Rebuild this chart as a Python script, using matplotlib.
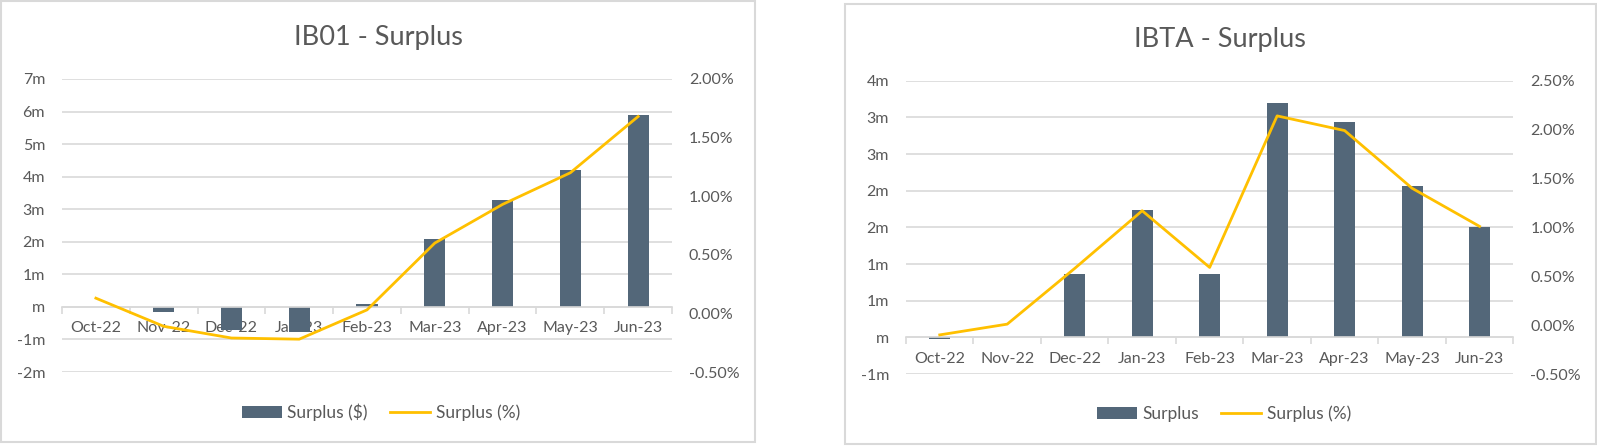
import numpy as np
import matplotlib
matplotlib.use("Agg")
import matplotlib.pyplot as plt
from matplotlib.patches import Rectangle
from matplotlib.ticker import FuncFormatter

months = ["Oct-22", "Nov-22", "Dec-22", "Jan-23", "Feb-23",
          "Mar-23", "Apr-23", "May-23", "Jun-23"]

# IB01 - surplus in $m and in %
ib01_surplus_m = [0.0, -0.17, -0.72, -0.78, 0.09, 2.09, 3.29, 4.21, 5.90]
ib01_surplus_pct = [0.13, -0.11, -0.21, -0.22, 0.03, 0.60, 0.93, 1.20, 1.68]

# IBTA - surplus in $m and in %
ibta_surplus_m = [-0.02, 0.0, 0.86, 1.73, 0.86, 3.19, 2.94, 2.07, 1.50]
ibta_surplus_pct = [-0.10, 0.01, 0.58, 1.17, 0.59, 2.14, 1.99, 1.40, 1.01]

BAR = "#536779"
LINE = "#FFC000"
GRID = "#d9d9d9"
TXT = "#595959"
FS = 11.5
LEG_FS = 12.5

plt.rcParams["font.family"] = ["Lato", "DejaVu Sans"]

W, H = 1597, 446
fig = plt.figure(figsize=(W / 100, H / 100), dpi=100)


def px_box(x0, y0, x1, y1):
    # pixel box (top-left origin) -> figure fraction rect
    return [x0 / W, 1 - y1 / H, (x1 - x0) / W, (y1 - y0) / H]


def m_fmt(v, pos):
    r = int(np.sign(v) * np.floor(abs(v) + 0.5))
    return "m" if r == 0 else f"{r}m"


def pct_fmt(v, pos):
    return f"{v:.2f}%"


def draw_panel(rect, bars, pct, ylim, yticks, plim, pticks, bar_label):
    ax = fig.add_axes(rect)
    x = np.arange(len(months))
    ax.set_axisbelow(True)
    ax.bar(x, bars, width=0.31, color=BAR, label=bar_label, zorder=2)
    ax.set_xlim(-0.5, len(months) - 0.5)
    ax.set_ylim(*ylim)
    ax.set_yticks(yticks)
    ax.yaxis.set_major_formatter(FuncFormatter(m_fmt))
    ax.grid(axis="y", color=GRID, lw=1.2)
    for s in ax.spines.values():
        s.set_visible(False)
    ax.spines["bottom"].set_visible(True)
    ax.spines["bottom"].set_position(("data", 0))
    ax.spines["bottom"].set_color(GRID)
    ax.spines["bottom"].set_linewidth(1.2)
    ax.set_xticks(x)
    ax.set_xticklabels(months)
    ax.set_xticks(np.arange(len(months) + 1) - 0.5, minor=True)
    ax.tick_params(axis="x", which="major", length=0, pad=10.3,
                   labelcolor=TXT, labelsize=FS)
    ax.tick_params(axis="x", which="minor", length=5, color=GRID, width=1.2)
    ax.tick_params(axis="y", length=0, pad=12.2, labelcolor=TXT, labelsize=FS)

    ax2 = ax.twinx()
    ax2.plot(x, pct, color=LINE, lw=2.0, label="Surplus (%)",
             solid_joinstyle="round")
    ax2.set_ylim(*plim)
    ax2.set_yticks(pticks)
    ax2.yaxis.set_major_formatter(FuncFormatter(pct_fmt))
    for s in ax2.spines.values():
        s.set_visible(False)
    ax2.tick_params(axis="y", length=0, pad=12.2, labelcolor=TXT, labelsize=FS)
    return ax, ax2


# chart frames
fig.add_artist(Rectangle((1 / W, 1 - 442 / H), 753.7 / W, 441 / H,
                         transform=fig.transFigure, fill=False,
                         edgecolor=GRID, lw=1.5))
fig.add_artist(Rectangle((845 / W, 1 - 444 / H), 750.7 / W, 440 / H,
                         transform=fig.transFigure, fill=False,
                         edgecolor=GRID, lw=1.5))

a1, b1 = draw_panel(px_box(62, 79, 672, 372), ib01_surplus_m, ib01_surplus_pct,
                    (-2, 7), np.arange(-2, 8, 1),
                    (-0.5, 2.0), np.arange(-0.5, 2.01, 0.5), "Surplus ($)")
a2, b2 = draw_panel(px_box(906, 80.7, 1513.3, 374), ibta_surplus_m, ibta_surplus_pct,
                    (-0.5, 3.5), np.arange(-0.5, 3.51, 0.5),
                    (-0.5, 2.5), np.arange(-0.5, 2.51, 0.5), "Surplus")

fig.text(378 / W, 1 - 38 / H, "IB01 - Surplus", ha="center", va="center",
         fontsize=19.5, color=TXT)
fig.text(1220 / W, 1 - 40 / H, "IBTA - Surplus", ha="center", va="center",
         fontsize=19.5, color=TXT)

for a, b, cx, cy in [(a1, b1, 381, 412), (a2, b2, 1224, 414)]:
    h1, l1 = a.get_legend_handles_labels()
    h2, l2 = b.get_legend_handles_labels()
    fig.legend(h1 + h2, l1 + l2, loc="center",
               bbox_to_anchor=(cx / W, 1 - cy / H), ncol=2, frameon=False,
               fontsize=LEG_FS, handlelength=2.3, handletextpad=0.3,
               columnspacing=1.3, labelcolor=TXT)

fig.savefig("out.png", dpi=100)
